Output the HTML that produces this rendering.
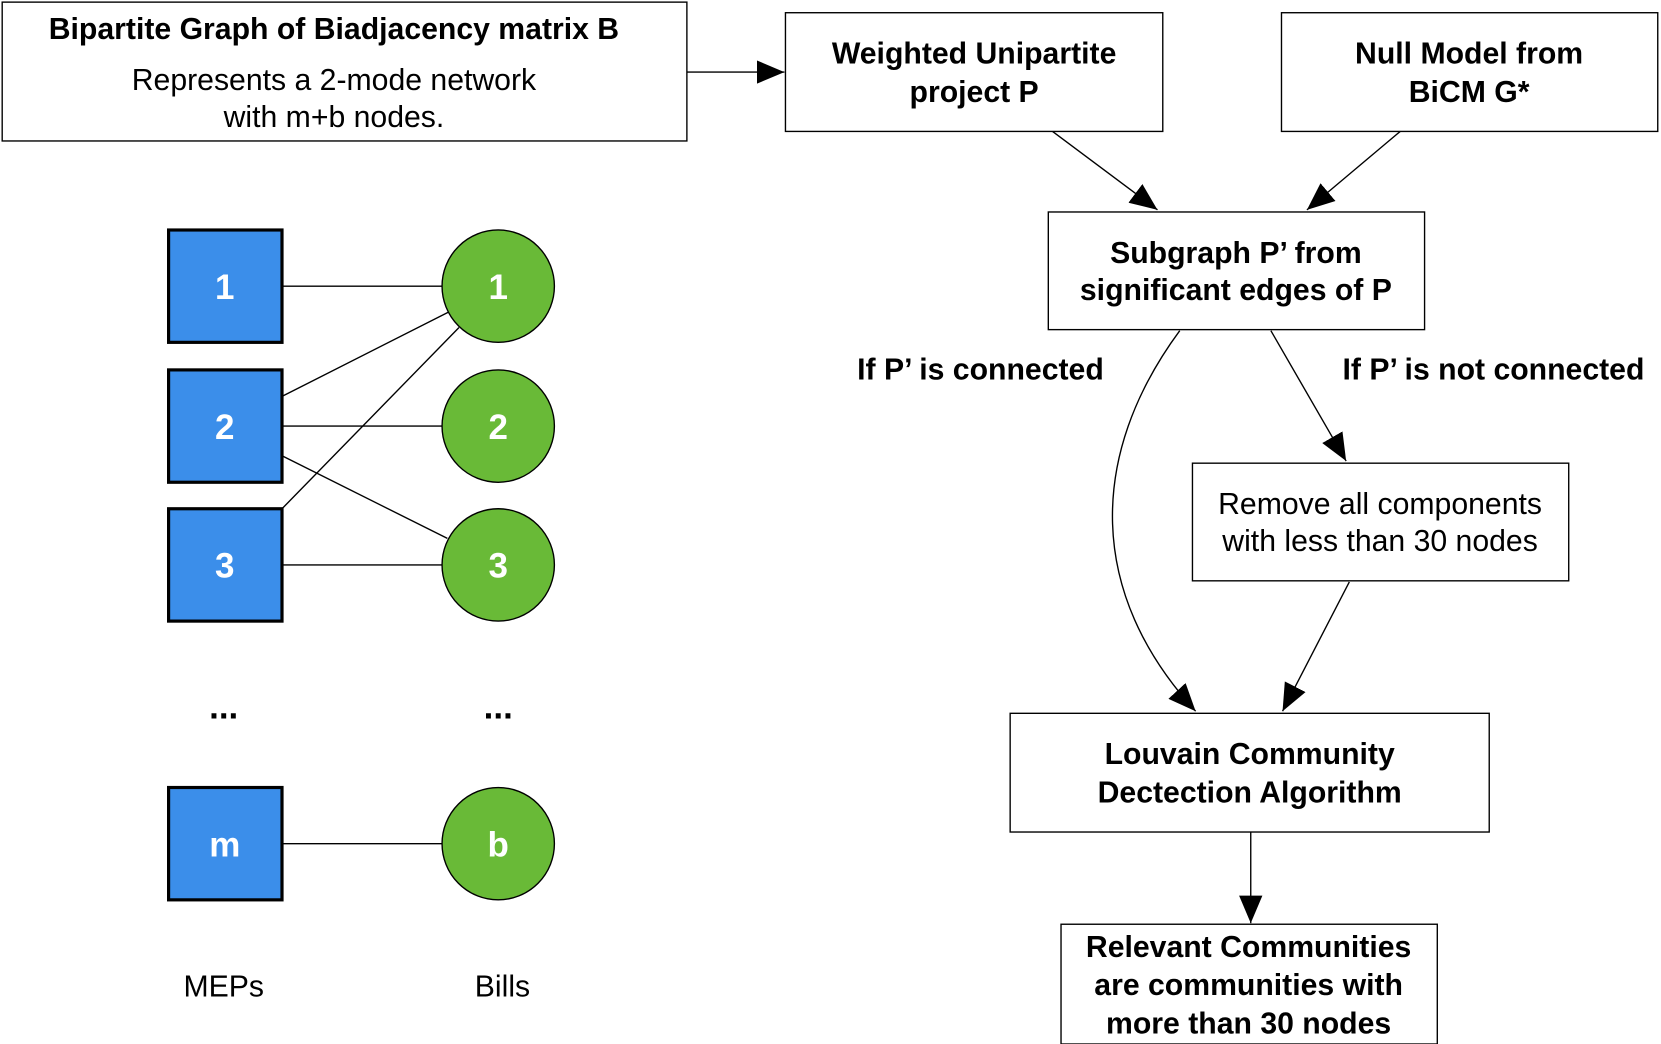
<!DOCTYPE html>
<html><head><meta charset="utf-8"><style>
html,body{margin:0;padding:0;background:#fff;}
svg{display:block;}
text{font-family:"Liberation Sans",sans-serif;font-size:28.5px;text-anchor:middle;fill:#000;}
.b{font-weight:bold;}
</style></head><body>
<svg width="1661" height="1044" viewBox="0 0 1567 985" xmlns="http://www.w3.org/2000/svg">
<defs><marker id="ab" markerWidth="26" markerHeight="22" refX="26" refY="11" orient="auto" markerUnits="userSpaceOnUse"><path d="M0,0 L26,11 L0,22 z" fill="#000"/></marker></defs>
<g fill="#fff" stroke="#000" stroke-width="1.3">
<rect x="2" y="2" width="646" height="131"/>
<rect x="741" y="12" width="356" height="112"/>
<rect x="1209" y="12" width="355" height="112"/>
<rect x="989" y="200" width="355" height="111"/>
<rect x="1125" y="437" width="355" height="111"/>
<rect x="953" y="673" width="452" height="112"/>
<rect x="1001" y="872" width="355" height="113"/>
</g>
<text class="b" x="315" y="37">Bipartite Graph of Biadjacency matrix B</text>
<text x="315" y="85">Represents a 2-mode network</text>
<text x="315" y="120">with m+b nodes.</text>
<text class="b" x="919" y="60">Weighted Unipartite</text>
<text class="b" x="919" y="96">project P</text>
<text class="b" x="1386" y="60">Null Model from</text>
<text class="b" x="1386" y="96">BiCM G*</text>
<text class="b" x="1166" y="248">Subgraph P’ from</text>
<text class="b" x="1166" y="283">significant edges of P</text>
<text class="b" x="925" y="358">If P’ is connected</text>
<text class="b" x="1409" y="358">If P’ is not connected</text>
<text x="1302" y="485">Remove all components</text>
<text x="1302" y="520">with less than 30 nodes</text>
<text class="b" x="1179" y="721">Louvain Community</text>
<text class="b" x="1179" y="757">Dectection Algorithm</text>
<text class="b" x="1178" y="903">Relevant Communities</text>
<text class="b" x="1178" y="939">are communities with</text>
<text class="b" x="1178" y="975">more than 30 nodes</text>
<g stroke="#000" stroke-width="1.3" fill="none">
<line x1="648" y1="68" x2="740" y2="68" marker-end="url(#ab)"/>
<line x1="993" y1="124" x2="1092" y2="198" marker-end="url(#ab)"/>
<line x1="1321" y1="124" x2="1233" y2="198" marker-end="url(#ab)"/>
<path d="M1113,312 C1026,430 1026,560 1128,671" marker-end="url(#ab)"/>
<line x1="1199" y1="312" x2="1270" y2="435" marker-end="url(#ab)"/>
<line x1="1273" y1="549" x2="1210" y2="671" marker-end="url(#ab)"/>
<line x1="1180" y1="785" x2="1180" y2="871" marker-end="url(#ab)"/>
<line x1="266" y1="270" x2="417" y2="270"/>
<line x1="266" y1="374" x2="424" y2="294"/>
<line x1="266" y1="402" x2="417" y2="402"/>
<line x1="266" y1="430" x2="422" y2="508"/>
<line x1="266" y1="480" x2="433" y2="309"/>
<line x1="266" y1="533" x2="417" y2="533"/>
<line x1="266" y1="796" x2="417" y2="796"/>
</g>
<g fill="#3b8eea" stroke="#000" stroke-width="3">
<rect x="159" y="217" width="107" height="106"/>
<rect x="159" y="349" width="107" height="106"/>
<rect x="159" y="480" width="107" height="106"/>
<rect x="159" y="743" width="107" height="106"/>
</g>
<g fill="#69ba37" stroke="#000" stroke-width="1.3">
<circle cx="470" cy="270" r="53"/>
<circle cx="470" cy="402" r="53"/>
<circle cx="470" cy="533" r="53"/>
<circle cx="470" cy="796" r="53"/>
</g>
<text class="b" x="212" y="282" style="fill:#fff;font-size:33px">1</text>
<text class="b" x="212" y="414" style="fill:#fff;font-size:33px">2</text>
<text class="b" x="212" y="545" style="fill:#fff;font-size:33px">3</text>
<text class="b" x="212" y="808" style="fill:#fff;font-size:33px">m</text>
<text class="b" x="470" y="282" style="fill:#fff;font-size:33px">1</text>
<text class="b" x="470" y="414" style="fill:#fff;font-size:33px">2</text>
<text class="b" x="470" y="545" style="fill:#fff;font-size:33px">3</text>
<text class="b" x="470" y="808" style="fill:#fff;font-size:33px">b</text>
<text class="b" x="211" y="678" style="font-size:33px">...</text>
<text class="b" x="470" y="678" style="font-size:33px">...</text>
<text x="211" y="940">MEPs</text>
<text x="474" y="940">Bills</text>
</svg>
</body></html>
